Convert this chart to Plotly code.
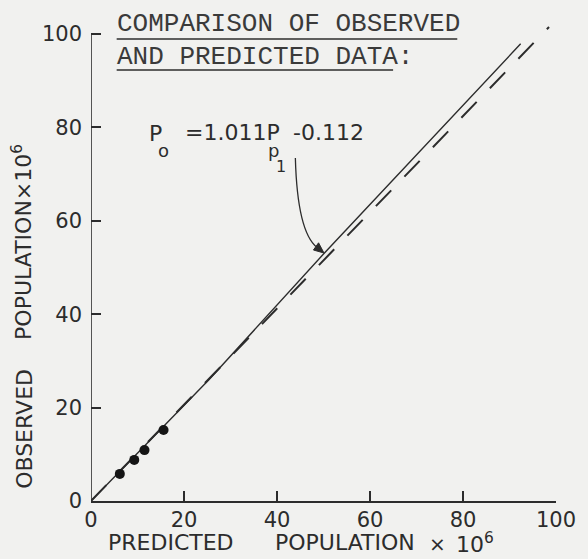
import plotly.graph_objects as go

# ---- data ----
pred_pts = [6.2, 9.3, 11.5, 15.6]      # predicted population x 10^6
obs_pts = [5.8, 8.8, 10.9, 15.2]       # observed population x 10^6
fit_x = [0, 25.3, 50.1, 92.4]          # solid regression line
fit_y = [0, 25.9, 53.0, 97.9]
dash_x = [0, 98.5]                     # dashed line
dash_y = [0, 101.5]
tick_vals = [0, 20, 40, 60, 80, 100]
tick_text = ["0", "20", "40", "60", "80", "100"]

W, H = 588, 559
L, R, T, B = 91, 26, 20, 58
XMAX, YMAX = 100, 103
INK = "#2c2c2c"
BG = "#f1f1ef"
SANS = "DejaVu Sans"
MONO = "Liberation Mono"


def X(px):
    return (px - L) / (W - L - R) * XMAX


def Y(py):
    return (H - B - py) / (H - B - T) * YMAX


def PX(px):
    return (px - L) / (W - L - R)


def PY(py):
    return (H - B - py) / (H - B - T)


fig = go.Figure()
fig.add_trace(go.Scatter(x=fit_x, y=fit_y, mode="lines",
                         line=dict(color=INK, width=1.4), hoverinfo="skip"))
fig.add_trace(go.Scatter(x=dash_x, y=dash_y, mode="lines",
                         line=dict(color=INK, width=2, dash="22px,19px"), hoverinfo="skip"))
fig.add_trace(go.Scatter(x=pred_pts, y=obs_pts, mode="markers",
                         marker=dict(color="#151515", size=10), hoverinfo="skip"))

shapes = [
    # y axis line from 0 to 100
    dict(type="line", xref="x", yref="y", x0=0, x1=0, y0=0, y1=100,
         line=dict(color=INK, width=1.6)),
    # title underlines
    dict(type="line", xref="x", yref="y", x0=X(117), x1=X(462), y0=Y(39), y1=Y(39),
         line=dict(color=INK, width=1.5)),
    dict(type="line", xref="x", yref="y", x0=X(117), x1=X(397), y0=Y(70), y1=Y(70),
         line=dict(color=INK, width=1.5)),
    # curved pointer
    dict(type="path", xref="x", yref="y",
         path=f"M {X(298)},{Y(158)} Q {X(300)},{Y(232)} {X(320)},{Y(247.5)}",
         line=dict(color=INK, width=1.3)),
    # arrow head
    dict(type="path", xref="x", yref="y",
         path=(f"M {X(327)},{Y(253)} L {X(316.3)},{Y(250)} "
               f"L {X(321.5)},{Y(242.8)} Z"),
         fillcolor=INK, line=dict(color=INK, width=1)),
]

ann = []


def txt(text, px, py, size, font=SANS, xanchor="left", angle=0, color=INK):
    ann.append(dict(text=text, x=PX(px), y=PY(py), xref="paper", yref="paper",
                    showarrow=False, xanchor=xanchor, yanchor="middle", textangle=angle,
                    borderpad=0,
                    font=dict(family=font, size=size, color=color)))


# title
txt("COMPARISON OF OBSERVED", 116, 24, 26, MONO, color="#3a3a3a")
txt("AND PREDICTED DATA:", 116, 57, 26, MONO, color="#3a3a3a")

# equation
txt("P", 149, 133, 22)
txt("o", 158, 151, 18)
txt("=1.011P", 185, 132, 22)
txt("p", 269, 150, 18)
txt("1", 277, 167, 16)
txt("-0.112", 295, 132, 22)

# x axis title
txt("PREDICTED", 172, 542, 22, xanchor="center")
txt("POPULATION", 348, 542, 22, xanchor="center")
txt("×", 442, 544, 20, xanchor="center")
txt("10<sup>6</sup>", 460, 543, 22)

# y axis title
txt("OBSERVED", 23, 429, 22, xanchor="center", angle=-90)
txt("POPULATION×10<sup>6</sup>", 21, 242, 22, xanchor="center", angle=-90)

fig.update_layout(
    width=W, height=H,
    margin=dict(l=L, r=R, t=T, b=B, pad=0),
    paper_bgcolor=BG, plot_bgcolor=BG,
    showlegend=False,
    shapes=shapes, annotations=ann,
    xaxis=dict(range=[0, XMAX], tickvals=tick_vals, ticktext=tick_text,
               ticks="inside", ticklen=10, tickwidth=1.5, tickcolor=INK,
               showline=True, linecolor=INK, linewidth=1.6,
               showgrid=False, zeroline=False, ticklabelstandoff=-1,
               tickfont=dict(family=SANS, size=21, color=INK)),
    yaxis=dict(range=[0, YMAX], tickvals=tick_vals, ticktext=tick_text,
               ticks="inside", ticklen=10, tickwidth=1.5, tickcolor=INK,
               showline=False, showgrid=False, zeroline=False, ticklabelstandoff=8,
               tickfont=dict(family=SANS, size=21, color=INK)),
)

fig.write_html(
    "out.html",
    config={"displayModeBar": False},
    post_script="document.body.style.margin='0';document.body.style.background='%s';" % BG,
)
